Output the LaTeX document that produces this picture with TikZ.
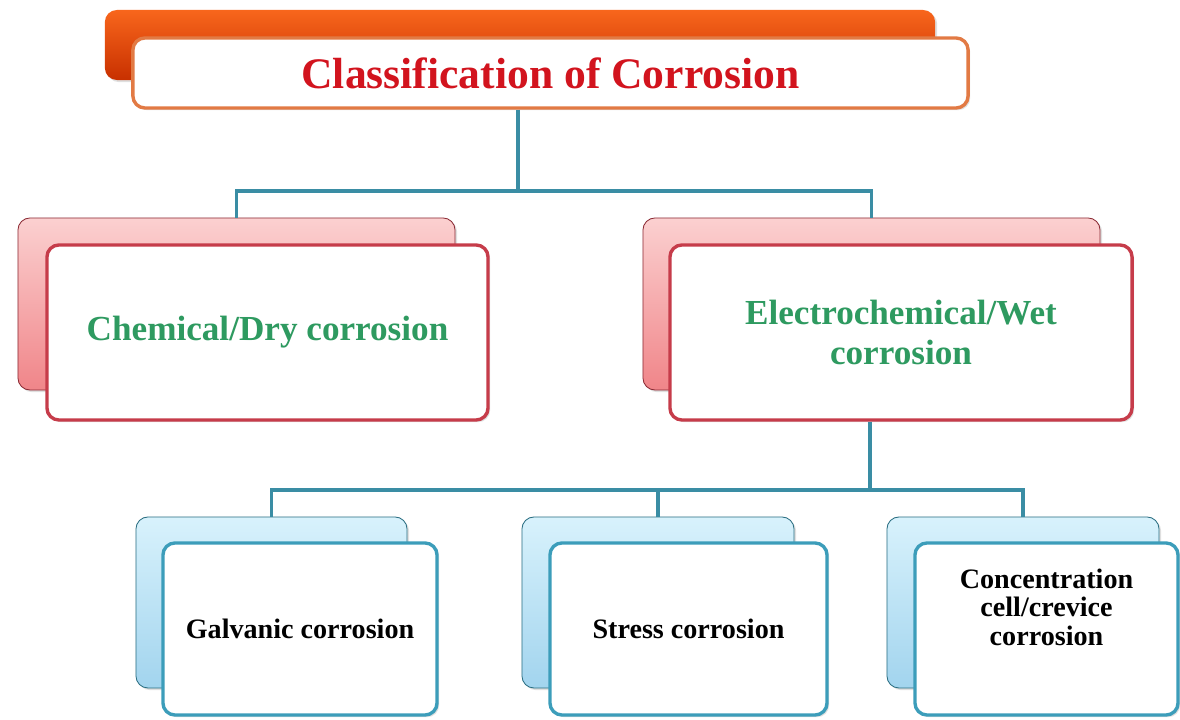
\documentclass[tikz,border=0pt]{standalone}
\usepackage{fontspec}
\setmainfont{Liberation Serif}
\usetikzlibrary{shadows}

\definecolor{barhi}{HTML}{F8661C}
\definecolor{barlo}{HTML}{C83000}
\definecolor{titleline}{HTML}{E27A44}
\definecolor{titlered}{HTML}{D2141E}
\definecolor{pinkhi}{HTML}{FBD0D0}
\definecolor{pinklo}{HTML}{F08589}
\definecolor{redline}{HTML}{C63C4A}
\definecolor{bluehi}{HTML}{D8F2FC}
\definecolor{bluelo}{HTML}{A2D4EE}
\definecolor{blueline}{HTML}{3C9DBA}
\definecolor{linkteal}{HTML}{3A8DA4}
\definecolor{textgreen}{HTML}{2E9A60}

\begin{document}
\begin{tikzpicture}[x=0.025cm, y=-0.025cm,
    link/.style={draw=linkteal, line width=2.4pt},
    shade/.style={drop shadow={opacity=0.25, shadow xshift=1.5pt, shadow yshift=-1.5pt}},
    backbox/.style={rounded corners=0.3cm, shade, inner sep=0pt},
    frontbox/.style={rounded corners=0.3cm, shade, fill=white, line width=2.4pt, align=center, inner sep=0pt},
    redback/.style={backbox, draw=redline!70!black, line width=0.6pt, top color=pinkhi, bottom color=pinklo},
    blueback/.style={backbox, draw=blueline!70!black, line width=0.6pt, top color=bluehi, bottom color=bluelo},
    redfront/.style={frontbox, draw=redline, text=textgreen, font=\fontsize{25}{28}\selectfont\bfseries},
    bluefront/.style={frontbox, draw=blueline, text=black, font=\fontsize{20}{20}\selectfont\bfseries}]

    \useasboundingbox[fill=white] (0,0) rectangle (1180,720);

    % Title
    \node[backbox, top color=barhi, bottom color=barlo, minimum width=20.75cm, minimum height=1.75cm] (titleback) at (520,45) {};
    \node[frontbox, draw=titleline, minimum width=20.875cm, minimum height=1.75cm,
          text=titlered, font=\fontsize{31}{32}\selectfont\bfseries] (title) at (550.5,73) {Classification of Corrosion};

    % First level
    \node[redback, minimum width=10.925cm, minimum height=4.3cm] (chemback) at (236.5,304) {};
    \node[redfront, minimum width=11.025cm, minimum height=4.375cm] (chem) at (267.5,332.5) {Chemical/Dry corrosion};

    \node[redback, minimum width=11.425cm, minimum height=4.3cm] (wetback) at (871.5,304) {};
    \node[redfront, minimum width=11.55cm, minimum height=4.375cm] (wet) at (901,332.5) {Electrochemical/Wet\\corrosion};

    % Second level
    \node[blueback, minimum width=6.775cm, minimum height=4.275cm] (galvback) at (271.5,602.5) {};
    \node[bluefront, minimum width=6.85cm, minimum height=4.3cm, text depth=-2pt] (galv) at (300,629) {Galvanic corrosion};

    \node[blueback, minimum width=6.8cm, minimum height=4.275cm] (stressback) at (658,602.5) {};
    \node[bluefront, minimum width=6.925cm, minimum height=4.3cm, text depth=-2pt] (stress) at (688.5,629) {Stress corrosion};

    \node[blueback, minimum width=6.8cm, minimum height=4.275cm] (concback) at (1023,602.5) {};
    \node[bluefront, minimum width=6.575cm, minimum height=4.3cm, text depth=31pt] (conc) at (1046.5,629) {Concentration\\cell/crevice\\corrosion};

    % Connectors
    \coordinate (split1) at (518,191);
    \coordinate (split2) at (870,490);
    \draw[link] (title.south -| split1) -- (split1);
    \draw[link] (chemback.north) |- (split1) -| (wetback.north);
    \draw[link] (wet.south -| split2) -- (split2);
    \draw[link] (galvback.north) |- (split2) -| (concback.north);
    \draw[link] (stressback.north) -- (stressback.north |- split2);
\end{tikzpicture}
\end{document}
